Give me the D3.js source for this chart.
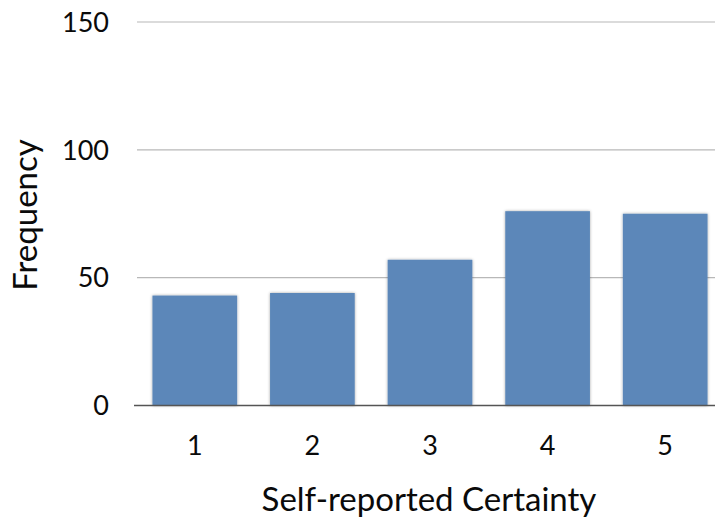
<!DOCTYPE html>
<html>
<head>
<meta charset="utf-8">
<script src="https://cdn.jsdelivr.net/npm/d3@7"></script>
<style>
  body { margin: 0; background: #fff; }
  svg text { font-family: "Lato", "Open Sans", sans-serif; fill: #0a0a0a; }
</style>
</head>
<body>
<svg id="chart" width="715" height="523"></svg>
<script>
  var categories = ['1', '2', '3', '4', '5'],
    frequency = [43, 44, 57, 76, 75],
    yTicks = [0, 50, 100, 150];

  var svg = d3.select('#chart'),
    x = d3.scaleBand().domain(categories).range([136, 724]).paddingInner(0.28).paddingOuter(0.14),
    y = d3.scaleLinear().domain([0, 150]).range([405.5, 22]);

  var defs = svg.append('defs');
  var f = defs.append('filter').attr('id', 'shadow')
    .attr('x', '-10%').attr('y', '-10%').attr('width', '120%').attr('height', '120%');
  f.append('feDropShadow').attr('dx', 0).attr('dy', 0).attr('stdDeviation', 1.6)
    .attr('flood-color', '#000').attr('flood-opacity', 0.35);

  // gridlines
  svg.append('g').selectAll('line')
    .data(yTicks.filter(function (d) { return d > 0; }))
    .enter().append('line')
    .attr('x1', 137).attr('x2', 715)
    .attr('y1', function (d) { return y(d); })
    .attr('y2', function (d) { return y(d); })
    .attr('stroke', '#b8b8b8').attr('stroke-width', 1.2);

  // y tick labels
  svg.append('g').selectAll('text')
    .data(yTicks)
    .enter().append('text')
    .attr('x', 109)
    .attr('y', function (d) { return y(d); })
    .attr('dy', '0.36em')
    .attr('text-anchor', 'end')
    .style('font-size', '27px')
    .text(function (d) { return d; });

  // bars
  svg.append('g').selectAll('rect')
    .data(frequency)
    .enter().append('rect')
    .attr('x', function (d, i) { return x(categories[i]); })
    .attr('width', x.bandwidth())
    .attr('y', function (d) { return y(d); })
    .attr('height', function (d) { return y(0) - y(d); })
    .attr('fill', '#5b87b9')
    .attr('filter', 'url(#shadow)');

  // baseline
  svg.append('line')
    .attr('x1', 134).attr('x2', 715)
    .attr('y1', y(0)).attr('y2', y(0))
    .attr('stroke', '#555').attr('stroke-width', 1.3);

  // x tick labels
  svg.append('g').selectAll('text')
    .data(categories)
    .enter().append('text')
    .attr('x', function (d) { return x(d) + x.bandwidth() / 2; })
    .attr('y', 445)
    .attr('dy', '0.36em')
    .attr('text-anchor', 'middle')
    .style('font-size', '27px')
    .text(function (d) { return d; });

  // axis titles
  svg.append('text')
    .attr('x', 429).attr('y', 511)
    .attr('text-anchor', 'middle')
    .style('font-size', '33px')
    .text('Self-reported Certainty');

  svg.append('text')
    .attr('transform', 'translate(37,215) rotate(-90)')
    .attr('text-anchor', 'middle')
    .style('font-size', '33px')
    .text('Frequency');
</script>
</body>
</html>
